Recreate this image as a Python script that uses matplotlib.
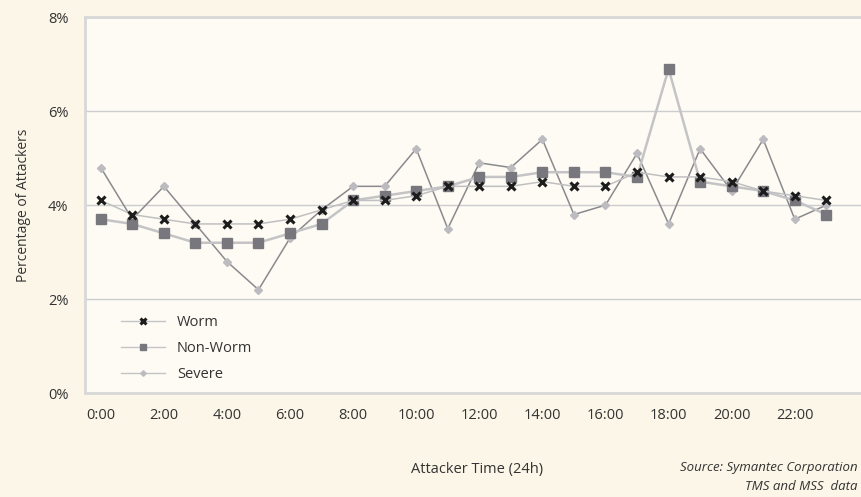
import numpy as np
import matplotlib.pyplot as plt

plt.rcParams['font.family'] = ['Open Sans', 'DejaVu Sans']

hours = np.arange(24)
tick_hours = np.arange(0, 24, 2)
tick_labels = ["%d:00" % h for h in tick_hours]

worm = [4.1, 3.8, 3.7, 3.6, 3.6, 3.6, 3.7, 3.9, 4.1, 4.1, 4.2, 4.4,
        4.4, 4.4, 4.5, 4.4, 4.4, 4.7, 4.6, 4.6, 4.5, 4.3, 4.2, 4.1]
non_worm = [3.7, 3.6, 3.4, 3.2, 3.2, 3.2, 3.4, 3.6, 4.1, 4.2, 4.3, 4.4,
            4.6, 4.6, 4.7, 4.7, 4.7, 4.6, 6.9, 4.5, 4.4, 4.3, 4.1, 3.8]
severe = [4.8, 3.7, 4.4, 3.6, 2.8, 2.2, 3.3, 3.9, 4.4, 4.4, 5.2, 3.5,
          4.9, 4.8, 5.4, 3.8, 4.0, 5.1, 3.6, 5.2, 4.3, 5.4, 3.7, 4.0]

fig = plt.figure(figsize=(8.61, 4.97), dpi=100, facecolor="#fcf6e8")
ax = fig.add_axes([0.0987, 0.209, 0.9013, 0.7565], facecolor="#fdfbf3")

ax.plot(hours, severe, color="#8a8a8e", lw=1.1, marker="D", ms=4,
        mfc="#bcbcc0", mec="#bcbcc0", label="Severe", zorder=3)
ax.plot(hours, non_worm, color="#c4c4c6", lw=1.8, marker="s", ms=6.5,
        mfc="#77777d", mec="#77777d", label="Non-Worm", zorder=4)
ax.plot(hours, worm, color="#c0c0c2", lw=1.1, marker="x", ms=6, mew=2.2,
        mfc="#1c1c1c", mec="#1c1c1c", label="Worm", zorder=5)

ax.set_xlim(-0.5, 24.1)
ax.set_ylim(0, 8)
ax.set_yticks([0, 2, 4, 6, 8])
ax.set_yticklabels(["0%", "2%", "4%", "6%", "8%"])
ax.set_xticks(tick_hours)
ax.set_xticklabels(tick_labels)
ax.tick_params(length=0, labelsize=10.5, colors="#333333")
ax.tick_params(axis="y", pad=12)
ax.tick_params(axis="x", pad=11)
ax.yaxis.grid(True, color="#cdcdd0", lw=1)
ax.set_axisbelow(True)

for side in ["left", "bottom", "top"]:
    ax.spines[side].set_color("#d8d8d8")
    ax.spines[side].set_linewidth(2)
ax.spines["right"].set_visible(False)

ax.set_ylabel("Percentage of Attackers", fontsize=10, color="#333333", labelpad=12)

handles, labels = ax.get_legend_handles_labels()
leg = ax.legend(handles[::-1], labels[::-1], loc="lower left", bbox_to_anchor=(0.03, -0.005),
                frameon=False, fontsize=10.5, handlelength=3, handletextpad=0.8,
                labelspacing=0.75, markerscale=0.7, labelcolor="#333333")
for h in leg.legend_handles:
    h.set_color("#c4c4c6")
    h.set_linewidth(1)

fig.text(0.554, 0.048, "Attacker Time (24h)", ha="center", fontsize=10.5, color="#333333")
fig.text(0.996, 0.052, "Source: Symantec Corporation", ha="right", fontsize=9.5,
         style="italic", color="#333333")
fig.text(0.996, 0.015, "TMS and MSS  data", ha="right", fontsize=9.5,
         style="italic", color="#333333")

fig.savefig("out.png", dpi=100, facecolor=fig.get_facecolor())
